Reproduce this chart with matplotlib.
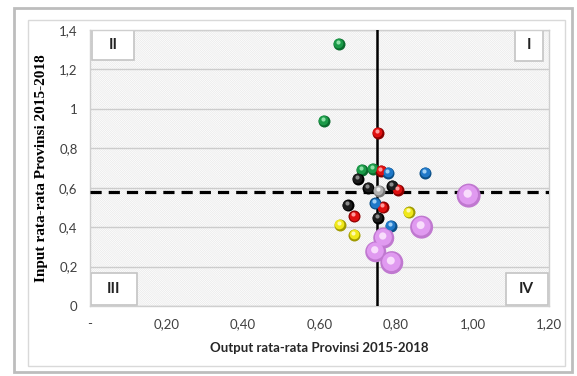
import numpy as np
import matplotlib.pyplot as plt
from matplotlib.patches import Rectangle
from matplotlib.transforms import offset_copy
from matplotlib.ticker import FixedLocator, FixedFormatter

# data (x = output, y = input)
green_x = [0.650, 0.611, 0.710, 0.739]
green_y = [1.33, 0.94, 0.69, 0.695]
red_x = [0.752, 0.762, 0.804, 0.765, 0.690]
red_y = [0.88, 0.685, 0.59, 0.50, 0.455]
blue_x = [0.780, 0.877, 0.745, 0.786]
blue_y = [0.675, 0.675, 0.52, 0.405]
black_x = [0.700, 0.728, 0.790, 0.674, 0.752]
black_y = [0.645, 0.60, 0.61, 0.51, 0.445]
gray_x = [0.755]
gray_y = [0.585]
yellow_x = [0.833, 0.653, 0.690]
yellow_y = [0.475, 0.41, 0.36]
violet_x = [0.990, 0.867, 0.768, 0.747, 0.789]
violet_y = [0.56, 0.40, 0.345, 0.275, 0.22]
violet_size = [24, 23, 21, 21, 23]   # bubble diameter (px)

x_ref = 0.75   # vertical split
y_ref = 0.58   # horizontal split

xticks = [0, 0.2, 0.4, 0.6, 0.8, 1.0, 1.2]
xticklabels = ['-', '0,20', '0,40', '0,60', '0,80', '1,00', '1,20']
yticks = [0, 0.2, 0.4, 0.6, 0.8, 1.0, 1.2, 1.4]
yticklabels = ['0', '0,2', '0,4', '0,6', '0,8', '1', '1,2', '1,4']

W, H = 577, 376
fig = plt.figure(figsize=(W / 100, H / 100), dpi=100)
fig.patch.set_facecolor('white')

# chart frame
fig.patches.append(Rectangle((14 / W, 1 - 372 / H), 558 / W, 364 / H, transform=fig.transFigure,
                             fill=False, edgecolor='#bdbdbd', lw=2.0))
fig.patches.append(Rectangle((28 / W, 1 - 366 / H), 537 / W, 346 / H, transform=fig.transFigure,
                             fill=False, edgecolor='#d9d9d9', lw=1.0))

L, R, T, B = 90, 549, 30, 306
ax = fig.add_axes([L / W, 1 - B / H, (R - L) / W, (B - T) / H])
ax.set_xlim(0, 1.2)
ax.set_ylim(0, 1.4)
ax.set_facecolor('white')

plt.rcParams['hatch.linewidth'] = 0.5
ax.add_patch(Rectangle((0, 0), 1, 1, transform=ax.transAxes, facecolor='white',
                       edgecolor='#e8e8e8', hatch='\\' * 16, lw=0, zorder=0))
for s in ax.spines.values():
    s.set_color('#cfcfcf')
    s.set_linewidth(1.0)

ax.yaxis.grid(True, color='#cccccc', lw=1.0, zorder=1)
ax.set_axisbelow(True)
ax.xaxis.set_major_locator(FixedLocator(xticks))
ax.xaxis.set_major_formatter(FixedFormatter(xticklabels))
ax.yaxis.set_major_locator(FixedLocator(yticks))
ax.yaxis.set_major_formatter(FixedFormatter(yticklabels))
ax.tick_params(length=0, labelsize=9.5, labelcolor='#404040', pad=9)
for t in ax.get_xticklabels() + ax.get_yticklabels():
    t.set_family('Lato')

# quadrant boxes
quads = [('II', 0.004, 0.891, 0.092, 0.109),
         ('I', 0.926, 0.888, 0.061, 0.112),
         ('III', 0.002, 0.004, 0.100, 0.116),
         ('IV', 0.906, 0.004, 0.091, 0.116)]
for lab, x0, y0, w, h in quads:
    ax.add_patch(Rectangle((x0, y0), w, h, transform=ax.transAxes, facecolor='white',
                           edgecolor='#c4c4c4', lw=1.2, zorder=2))
    ax.text(x0 + w / 2, y0 + h / 2, lab, transform=ax.transAxes, ha='center', va='center',
            fontsize=11, fontweight='bold', family='Lato', color='#222222', zorder=3)

ax.axhline(y_ref, color='black', lw=2.3, dashes=(3.5, 2.2), zorder=3)
ax.axvline(x_ref, color='black', lw=1.8, zorder=3)


def balls(xs, ys, diam, dark, base, light):
    diam = np.atleast_1d(diam).astype(float)
    s = (diam * 0.72) ** 2
    ax.scatter(xs, ys, s=s, color=dark, lw=0, zorder=4)
    t1 = offset_copy(ax.transData, fig=fig, x=-0.4, y=0.8, units='dots')
    ax.scatter(xs, ys, s=s * 0.65, color=base, lw=0, zorder=5, transform=t1)
    t2 = offset_copy(ax.transData, fig=fig, x=-1.0, y=2.0, units='dots')
    ax.scatter(xs, ys, s=s * 0.12, color=light, lw=0, zorder=6, transform=t2)


balls(green_x, green_y, 12, '#0b6b2e', '#1b9a48', '#8fe0a8')
balls(red_x, red_y, 12, '#8a0000', '#e01010', '#ff9a9a')
balls(blue_x, blue_y, 12, '#0b4f86', '#1f78c8', '#9fd0f5')
balls(black_x, black_y, 12, '#000000', '#1c1c1c', '#8a8a8a')
balls(gray_x, gray_y, 12, '#7a7a7a', '#b0b0b0', '#eeeeee')
balls(yellow_x, yellow_y, 12, '#a09a00', '#f0e81a', '#fffbb0')
balls(violet_x, violet_y, violet_size, '#c078d0', '#e09af0', '#f8dcfc')

ax.set_xlabel('Output rata-rata Provinsi 2015-2018', fontsize=9.5, fontweight='bold',
              family='Lato', color='#262626', labelpad=8)
ax.set_ylabel('Input rata-rata Provinsi 2015-2018', fontsize=11, fontweight='bold',
              family='Liberation Serif', color='black', labelpad=8)

fig.savefig('out.png', dpi=100)
